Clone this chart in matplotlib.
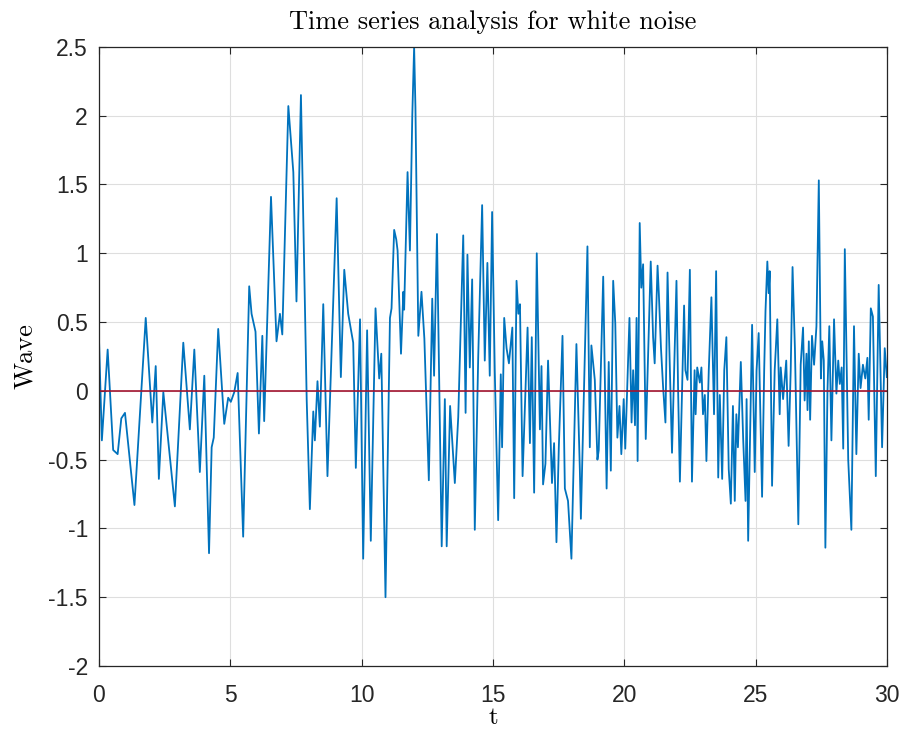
import numpy as np
import matplotlib.pyplot as plt

# sampled white-noise wave (time, amplitude)
t = [0.00, 0.11, 0.33, 0.54, 0.71, 0.85, 0.99, 1.35, 1.78, 2.03, 2.16, 2.28, 2.45, 2.89,
     3.21, 3.46, 3.63, 3.84, 4.01, 4.19, 4.29, 4.37, 4.54, 4.77, 4.92, 5.02, 5.15, 5.28,
     5.49, 5.72, 5.81, 5.96, 6.09, 6.22, 6.29, 6.55, 6.76, 6.89, 6.98, 7.21, 7.40, 7.52,
     7.69, 7.91, 8.03, 8.16, 8.22, 8.32, 8.41, 8.54, 8.70, 9.05, 9.21, 9.34, 9.43, 9.49,
     9.61, 9.68, 9.78, 9.94, 10.06, 10.21, 10.35, 10.53, 10.67, 10.75, 10.91, 11.08, 11.14,
     11.24, 11.32, 11.37, 11.50, 11.59, 11.62, 11.75, 11.84, 11.93, 12.00, 12.05, 12.16,
     12.28, 12.39, 12.56, 12.69, 12.76, 12.87, 13.05, 13.17, 13.24, 13.37, 13.55, 13.68,
     13.87, 13.96, 14.03, 14.12, 14.21, 14.31, 14.44, 14.59, 14.69, 14.79, 14.88, 14.97,
     15.07, 15.20, 15.30, 15.35, 15.43, 15.52, 15.61, 15.74, 15.81, 15.90, 15.97, 16.03,
     16.13, 16.32, 16.41, 16.48, 16.57, 16.67, 16.79, 16.85, 16.91, 17.00, 17.10, 17.25,
     17.33, 17.42, 17.51, 17.65, 17.74, 17.86, 17.99, 18.18, 18.31, 18.35, 18.60, 18.69,
     18.75, 18.88, 18.98, 19.03, 19.20, 19.33, 19.41, 19.49, 19.58, 19.66, 19.74, 19.82,
     19.89, 19.98, 20.04, 20.20, 20.28, 20.34, 20.41, 20.47, 20.51, 20.59, 20.65, 20.72,
     20.82, 21.01, 21.10, 21.16, 21.27, 21.32, 21.40, 21.48, 21.57, 21.65, 21.70, 21.82,
     21.99, 22.05, 22.12, 22.28, 22.33, 22.41, 22.50, 22.58, 22.68, 22.72, 22.78, 22.88,
     22.94, 23.00, 23.07, 23.13, 23.22, 23.32, 23.42, 23.50, 23.58, 23.64, 23.73, 23.81,
     23.89, 23.98, 24.06, 24.14, 24.21, 24.27, 24.33, 24.44, 24.53, 24.62, 24.66, 24.72,
     24.87, 24.97, 25.04, 25.12, 25.25, 25.33, 25.38, 25.45, 25.50, 25.54, 25.63, 25.73,
     25.83, 25.92, 25.96, 26.05, 26.17, 26.26, 26.34, 26.41, 26.50, 26.63, 26.72, 26.81,
     26.87, 26.94, 26.98, 27.03, 27.08, 27.15, 27.23, 27.32, 27.41, 27.49, 27.54, 27.60,
     27.66, 27.74, 27.81, 27.89, 27.99, 28.08, 28.15, 28.21, 28.28, 28.34, 28.40, 28.53,
     28.65, 28.75, 28.84, 28.93, 29.00, 29.09, 29.18, 29.26, 29.31, 29.39, 29.47, 29.58,
     29.69, 29.82, 29.92, 30.00]
wave = [0.38, -0.36, 0.30, -0.43, -0.46, -0.20, -0.16, -0.83, 0.53, -0.23, 0.18, -0.64, -0.01, -0.84,
        0.35, -0.28, 0.30, -0.59, 0.11, -1.18, -0.41, -0.34, 0.45, -0.24, -0.05, -0.08, -0.01, 0.13,
        -1.06, 0.76, 0.56, 0.43, -0.31, 0.40, -0.22, 1.41, 0.36, 0.56, 0.41, 2.07, 1.59, 0.65,
        2.15, -0.07, -0.86, -0.15, -0.36, 0.07, -0.26, 0.63, -0.62, 1.40, 0.10, 0.88, 0.69, 0.56,
        0.43, 0.35, -0.56, 0.52, -1.22, 0.44, -1.09, 0.60, 0.09, 0.27, -1.50, 0.53, 0.60,
        1.17, 1.10, 1.02, 0.27, 0.72, 0.59, 1.59, 1.02, 2.00, 2.50, 2.06, 0.40,
        0.72, 0.38, -0.65, 0.67, 0.11, 1.14, -1.13, -0.06, -1.13, -0.11, -0.67, -0.19,
        1.13, -0.16, 0.99, 0.17, 0.81, -1.01, 0.24, 1.35, 0.22, 0.93, 0.11, 1.30,
        0.15, -0.94, 0.12, -0.41, 0.53, 0.31, 0.20, 0.46, -0.78, 0.80, 0.56, 0.63,
        -0.62, 0.46, -0.38, 0.39, -0.74, 1.00, -0.28, 0.18, -0.68, -0.53, 0.22, -0.67,
        -0.38, -1.10, -0.41, 0.40, -0.71, -0.80, -1.22, 0.34, -0.57, -0.93, 1.05, -0.41,
        0.33, 0.08, -0.50, -0.43, 0.83, -0.71, 0.21, -0.58, 0.80, 0.49, -0.34, -0.11,
        -0.46, -0.06, -0.42, 0.53, -0.23, 0.15, -0.25, 0.53, -0.51, 1.22, 0.75, 0.92,
        -0.35, 0.94, 0.39, 0.20, 0.91, 0.70, 0.31, 0.03, -0.23, 0.86, 0.45, -0.45,
        0.80, 0.03, -0.66, 0.62, 0.15, 0.08, 0.88, -0.66, 0.15, -0.17, 0.17, 0.06,
        0.17, -0.17, -0.03, -0.51, 0.15, 0.68, -0.17, 0.87, -0.63, -0.03, -0.64, 0.15,
        0.39, -0.57, -0.82, -0.11, -0.80, -0.17, -0.41, 0.21, -0.35, -0.80, -0.06, -1.09,
        0.48, -0.59, 0.15, 0.42, -0.77, 0.15, 0.58, 0.94, 0.71, 0.87, -0.69, 0.15,
        0.52, -0.17, 0.17, -0.06, 0.22, -0.40, 0.15, 0.90, 0.31, -0.97, 0.19, 0.46,
        -0.07, 0.27, -0.14, 0.36, -0.21, 0.40, 0.19, 0.47, 1.53, 0.09, 0.36, 0.22,
        -1.14, 0.00, 0.47, -0.36, 0.52, -0.02, 0.22, 0.05, 0.17, -0.42, 1.03, -0.50,
        -1.01, 0.47, -0.46, 0.27, 0.02, 0.19, 0.09, 0.24, -0.21, 0.60, 0.54, -0.62,
        0.77, -0.41, 0.31, 0.10]

mean_level = 0.0
xticks = [0, 5, 10, 15, 20, 25, 30]
yticks = [-2, -1.5, -1, -0.5, 0, 0.5, 1, 1.5, 2, 2.5]

plt.rcParams['font.family'] = ['Liberation Sans', 'DejaVu Sans']

fig = plt.figure(figsize=(9.04, 7.33), dpi=100)
ax = fig.add_axes([0.1095, 0.0914, 0.8715, 0.8446])

ax.plot(t, wave, color='#0072BD', linewidth=1.3)
ax.plot([t[0], t[-1]], [mean_level, mean_level], color='#A2142F', linewidth=1.2)

ax.set_xlim(0, 30)
ax.set_ylim(-2, 2.5)
ax.set_xticks(xticks)
ax.set_yticks(yticks)
ax.set_yticklabels([f'{v:g}' for v in yticks])
ax.grid(True, color='#dedede', linewidth=0.8)
ax.set_axisbelow(True)
ax.tick_params(direction='in', length=5, width=0.8, top=True, right=True,
               labelsize=16.5, colors='#262626')
ax.tick_params(axis='x', pad=13)
ax.tick_params(axis='y', pad=8)
for s in ax.spines.values():
    s.set_color('#262626')
    s.set_linewidth(0.9)

ax.set_title('Time series analysis for white noise', fontfamily='cmr10', fontsize=19, pad=13)
ax.set_xlabel('t', fontfamily='cmr10', fontsize=18, labelpad=0)
ax.set_ylabel('Wave', fontfamily='cmr10', fontsize=19, labelpad=8)

fig.savefig('out.png', dpi=100)
